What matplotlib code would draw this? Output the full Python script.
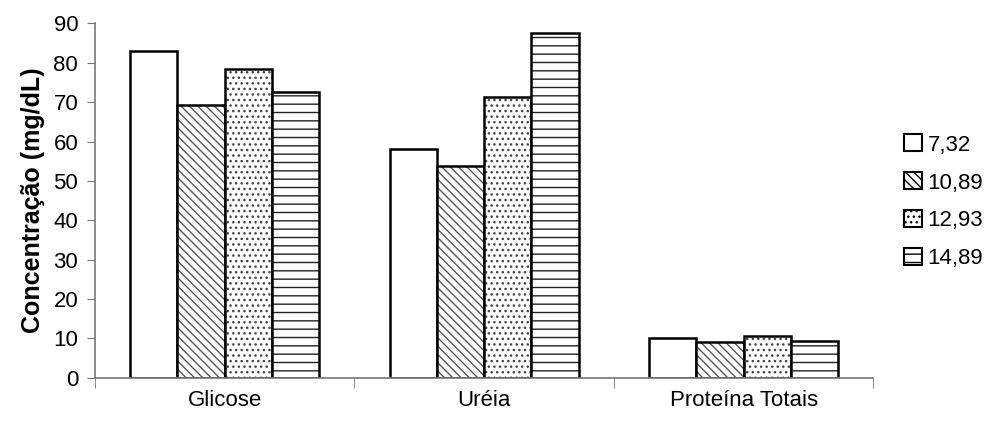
import numpy as np
import matplotlib.pyplot as plt
from matplotlib.patches import Patch

plt.rcParams['font.family'] = ['Liberation Sans', 'DejaVu Sans']
plt.rcParams['hatch.linewidth'] = 1.0

# data
categorias = ['Glicose', 'Uréia', 'Proteína Totais']
series = ['7,32', '10,89', '12,93', '14,89']
glicose = [82.9, 69.4, 78.4, 72.7]
ureia = [58.1, 53.7, 71.4, 87.6]
proteina = [10.1, 9.1, 10.5, 9.4]
hatches = ['', '\\\\\\\\', '...', '--']
hatch_cores = ['white', '#555555', '#444444', '#222222']

valores = np.array([glicose, ureia, proteina])

fig = plt.figure(figsize=(9.88, 4.25), dpi=100)
ax = fig.add_axes([0.096, 0.111, 0.788, 0.834])

x = np.arange(len(categorias))
largura = 0.182
for i, nome in enumerate(series):
    pos = x + (i - 1.5) * largura
    # hatch layer first, then a black outline on top
    ax.bar(pos, valores[:, i], largura, color='white', edgecolor=hatch_cores[i],
           hatch=hatches[i], linewidth=0)
    ax.bar(pos, valores[:, i], largura, fill=False, edgecolor='black', linewidth=1.8)

ax.set_xlim(-0.5, 2.5)
ax.set_ylim(0, 90)
ax.set_yticks(range(0, 91, 10))
ax.set_xticks(x)
ax.set_xticklabels(categorias, fontsize=16)
ax.set_xticks([-0.5, 0.5, 1.5, 2.5], minor=True)
ax.tick_params(axis='x', which='major', length=0, pad=9)
ax.tick_params(axis='x', which='minor', length=7, color='#777777', direction='out')
ax.tick_params(axis='y', labelsize=16, length=6, color='#777777', direction='out', pad=6)
ax.set_ylabel('Concentração (mg/dL)', fontsize=18, fontweight='bold', labelpad=6)

for lado in ['top', 'right']:
    ax.spines[lado].set_visible(False)
for lado in ['left', 'bottom']:
    ax.spines[lado].set_color('#777777')
    ax.spines[lado].set_linewidth(1.2)

handles = []
for h, c in zip(hatches, hatch_cores):
    handles.append(Patch(facecolor='white', edgecolor='black', hatch=h, linewidth=1.5))
fig.legend(handles, series, loc='center left', bbox_to_anchor=(0.904, 0.525),
           frameon=False, fontsize=16, handlelength=0.8, handleheight=0.8,
           handletextpad=0.25, labelspacing=0.75, borderpad=0)

fig.savefig('out.png', dpi=100)
